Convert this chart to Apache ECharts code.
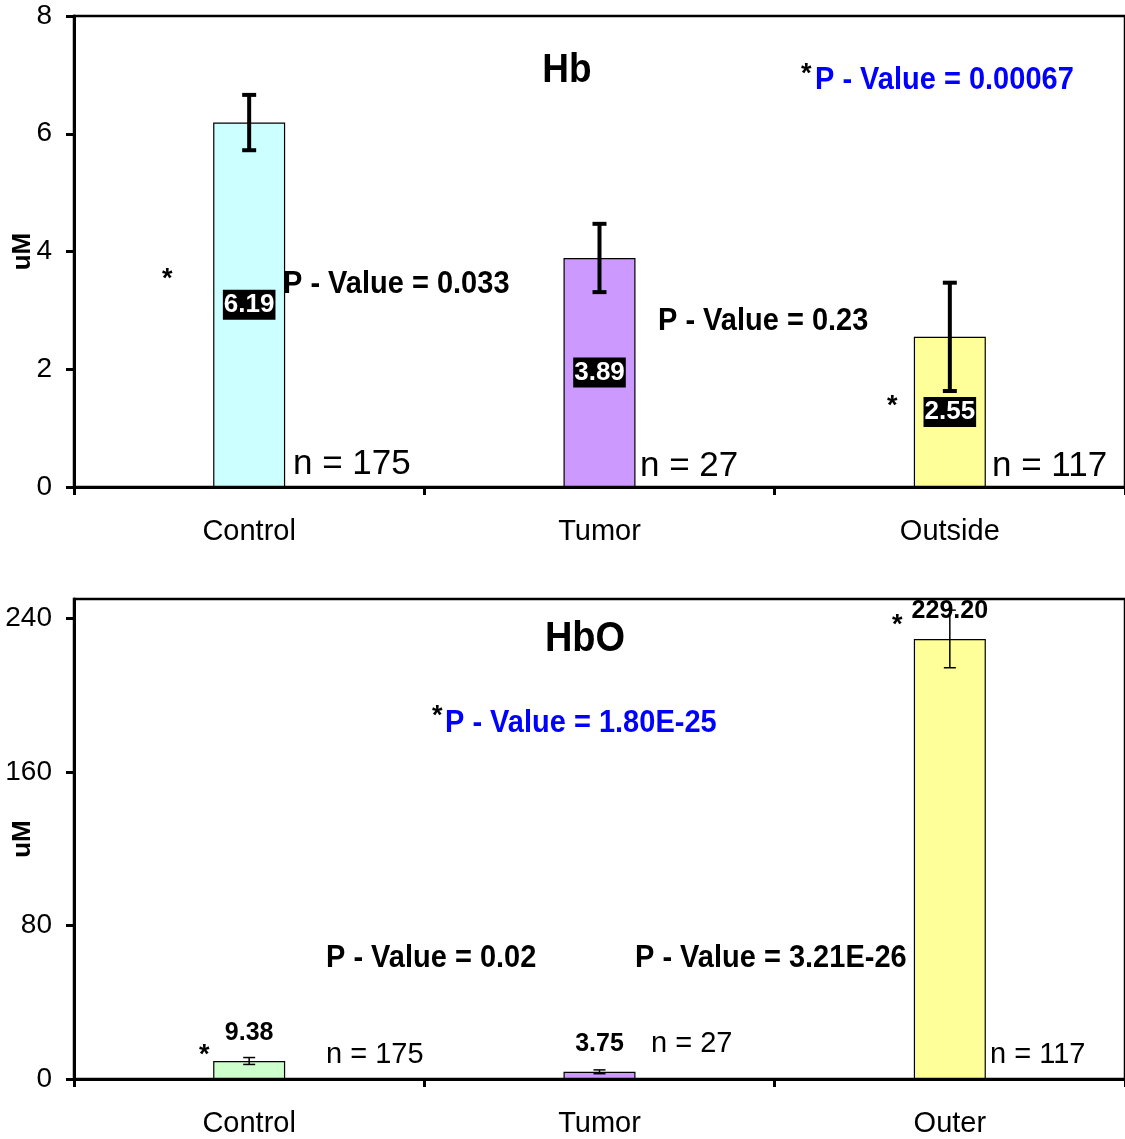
<!DOCTYPE html>
<html>
<head>
<meta charset="utf-8">
<script src="https://cdn.jsdelivr.net/npm/echarts@6/dist/echarts.min.js"></script>
<style>
html,body{margin:0;padding:0;background:#fff;}
#chart{width:1125px;height:1139px;}
</style>
</head>
<body>
<div id="chart"></div>
<script>
// ---- data ----
const hbCategories = ['Control', 'Tumor', 'Outside'];
const hbValues = [6.19, 3.89, 2.55];
const hbErrors = [0.47, 0.58, 0.92];
const hbColors = ['#CCFFFF', '#CC99FF', '#FFFF99'];
const hbTicks = [0, 2, 4, 6, 8];

const hboCategories = ['Control', 'Tumor', 'Outer'];
const hboValues = [9.38, 3.75, 229.20];
const hboErrors = [1.8, 1.0, 15];
const hboColors = ['#CCFFCC', '#CC99FF', '#FFFF99'];
const hboTicks = [0, 80, 160, 240];

const hbTitle = 'Hb';
const hboTitle = 'HbO';
const hbNotes = ['P - Value = 0.033', 'P - Value = 0.23', '*P - Value = 0.00067'];
const hboNotes = ['P - Value = 0.02', 'P - Value = 3.21E-26', '*P - Value = 1.80E-25'];
const hbN = ['n = 175', 'n = 27', 'n = 117'];
const hboN = ['n = 175', 'n = 27', 'n = 117'];

// ---- chart ----
const FONT = '"Liberation Sans", Arial, Helvetica, sans-serif';
const chart = echarts.init(document.getElementById('chart'), null, {renderer: 'canvas'});

function errorSeries(values, errs, xi, lw, capHalf) {
  return {
    type: 'custom',
    xAxisIndex: xi, yAxisIndex: xi,
    z: 5,
    silent: true,
    data: values.map((v, i) => [i, v, errs[i]]),
    renderItem: function (params, api) {
      const i = api.value(0), v = api.value(1), e = api.value(2);
      const top = api.coord([i, v + e]);
      const bot = api.coord([i, v - e]);
      const st = {stroke: '#000', lineWidth: lw};
      return {
        type: 'group',
        children: [
          {type: 'line', shape: {x1: top[0], y1: top[1], x2: bot[0], y2: bot[1]}, style: st},
          {type: 'line', shape: {x1: top[0] - capHalf, y1: top[1], x2: top[0] + capHalf, y2: top[1]}, style: st},
          {type: 'line', shape: {x1: bot[0] - capHalf, y1: bot[1], x2: bot[0] + capHalf, y2: bot[1]}, style: st}
        ]
      };
    }
  };
}

function xAxisCfg(cats, gi) {
  return {
    type: 'category', gridIndex: gi, data: cats,
    axisLine: {lineStyle: {color: '#000', width: 3}},
    axisTick: {show: true, length: 8, lineStyle: {color: '#000', width: 3}},
    axisLabel: {color: '#000', fontSize: 29, fontFamily: FONT, margin: 30},
    splitLine: {show: false}
  };
}

function yAxisCfg(max, interval, ticks, gi, nameGap) {
  return {
    type: 'value', gridIndex: gi, min: 0, max: max, interval: interval,
    name: 'uM', nameLocation: 'middle', nameRotate: 90, nameGap: nameGap,
    nameMoveOverlap: false,
    nameTextStyle: {color: '#000', fontSize: 26, fontWeight: 'bold', fontFamily: FONT},
    axisLine: {show: true, lineStyle: {color: '#000', width: 3}},
    axisTick: {show: true, length: 8, customValues: ticks, lineStyle: {color: '#000', width: 3}},
    axisLabel: {color: '#000', fontSize: 28, fontFamily: FONT, margin: 22, customValues: ticks},
    splitLine: {show: false}
  };
}

// annotation elements (pixel placed text)
const graphics = [];
function addText(text, x, y, font, fill, align, sy) {
  graphics.push({
    type: 'text', x: x, y: y, z: 50, silent: true, scaleY: sy || 1,
    style: {text: text, fill: fill || '#000', font: font, align: align || 'left', verticalAlign: 'middle'}
  });
}
const B29 = 'bold 29px ' + FONT;
const SY = 1.1;
// top panel
addText(hbTitle, 567, 71, 'bold 37px ' + FONT, '#000', 'center', SY);
addText('*', 801, 75, 'bold 27px ' + FONT);
addText(hbNotes[2].slice(1), 815, 80, B29, '#0000FF', 'left', SY);
addText('*', 162, 280, 'bold 27px ' + FONT);
addText(hbNotes[0], 283, 284, B29, '#000', 'left', SY);
addText(hbNotes[1], 658, 321, B29, '#000', 'left', SY);
addText('*', 887, 407, 'bold 27px ' + FONT);
addText(hbN[0], 293, 464, '35px ' + FONT);
addText(hbN[1], 640, 466, '35px ' + FONT);
addText(hbN[2], 992, 466, '35px ' + FONT);
// bottom panel
addText(hboTitle, 585, 639, 'bold 38px ' + FONT, '#000', 'center', SY);
addText('*', 432, 717, 'bold 27px ' + FONT);
addText(hboNotes[2].slice(1), 445, 723, B29, '#0000FF', 'left', SY);
addText(hboNotes[0], 326, 958, B29, '#000', 'left', SY);
addText(hboNotes[1], 635, 958, B29, '#000', 'left', SY);
addText('*', 199, 1056, 'bold 27px ' + FONT);
addText('*', 892, 626, 'bold 27px ' + FONT);
addText(hboN[0], 326, 1055, '29px ' + FONT);
addText(hboN[1], 651, 1044, '29px ' + FONT);
addText(hboN[2], 990, 1055, '29px ' + FONT);

const gridBase = {left: 74, width: 1051, show: true, borderColor: '#000', borderWidth: 2.5,
  backgroundColor: 'transparent', containLabel: false, outerBoundsMode: 'none'};

const option = {
  backgroundColor: '#fff',
  animation: false,
  textStyle: {fontFamily: FONT},
  grid: [
    Object.assign({}, gridBase, {top: 16, height: 471}),
    Object.assign({}, gridBase, {top: 599, height: 480})
  ],
  xAxis: [xAxisCfg(hbCategories, 0), xAxisCfg(hboCategories, 1)],
  yAxis: [yAxisCfg(8, 2, hbTicks, 0, 38), yAxisCfg(250, 80, hboTicks, 1, 38)],
  series: [
    {
      type: 'bar', xAxisIndex: 0, yAxisIndex: 0, barWidth: 72,
      data: hbValues.map((v, i) => ({value: v, itemStyle: {color: hbColors[i], borderColor: '#000', borderWidth: 1.2}})),
      label: {
        show: true, position: 'inside', color: '#fff', backgroundColor: '#000',
        fontSize: 26, fontWeight: 'bold', fontFamily: FONT, padding: [3, 1, 1, 1],
        formatter: p => p.value.toFixed(2)
      }
    },
    errorSeries(hbValues, hbErrors, 0, 4, 7),
    {
      type: 'bar', xAxisIndex: 1, yAxisIndex: 1, barWidth: 72,
      data: hboValues.map((v, i) => ({value: v, itemStyle: {color: hboColors[i], borderColor: '#000', borderWidth: 1.2}})),
      label: {
        show: true, position: 'top', distance: 15, color: '#000',
        fontSize: 25, fontWeight: 'bold', fontFamily: FONT,
        formatter: p => p.value.toFixed(2)
      }
    },
    errorSeries(hboValues, hboErrors, 1, 1.5, 6)
  ],
  graphic: graphics
};
chart.setOption(option);
</script>
</body>
</html>
